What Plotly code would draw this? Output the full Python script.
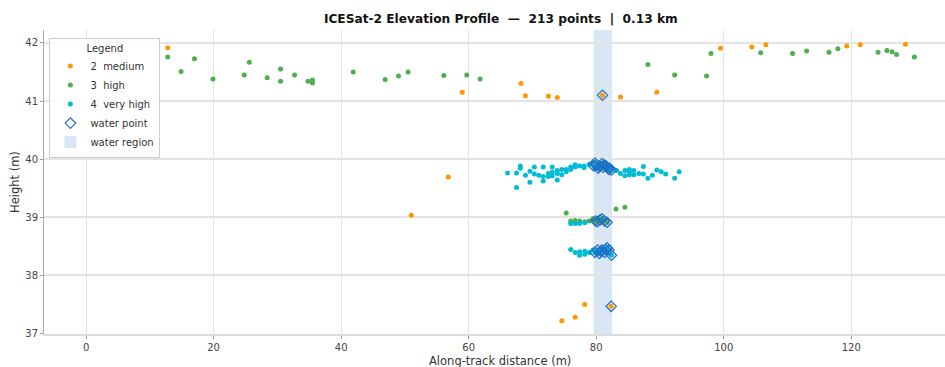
import plotly.graph_objects as go

# Photon returns by confidence class: along-track distance (m) and height (m)
medium_dist = [12.8, 51.0, 56.8, 59.0, 68.2, 68.9, 72.5, 73.9, 74.6, 76.7, 78.2,
               81.0, 82.35, 83.8, 89.5, 99.5, 104.4, 106.6, 119.3, 121.4, 128.5]
medium_h = [41.92, 39.03, 39.69, 41.15, 41.30, 41.09, 41.08, 41.06, 37.21, 37.27, 37.49,
            41.10, 37.46, 41.07, 41.15, 41.91, 41.93, 41.97, 41.95, 41.97, 41.98]

high_dist = [12.8, 14.9, 17.0, 19.9, 24.8, 25.6, 28.4, 30.5, 30.5, 32.7, 34.8, 35.5, 35.5,
             41.9, 46.9, 49.0, 50.5, 56.1, 59.7, 61.8, 88.1, 92.3, 97.3, 98.0, 105.8,
             110.8, 113.0, 116.5, 117.9, 124.2, 125.6, 126.4, 127.1, 129.9,
             75.3, 76.0, 76.7, 77.4, 78.2, 78.9, 79.5, 79.9, 80.2, 80.6, 80.9, 81.3,
             81.7, 83.1, 84.5]
high_h = [41.76, 41.51, 41.73, 41.38, 41.45, 41.67, 41.40, 41.55, 41.34, 41.45, 41.34, 41.36, 41.31,
          41.50, 41.37, 41.43, 41.50, 41.44, 41.45, 41.38, 41.63, 41.45, 41.43, 41.82, 41.83,
          41.82, 41.86, 41.84, 41.90, 41.84, 41.87, 41.85, 41.80, 41.76,
          39.07, 38.93, 38.94, 38.93, 38.92, 38.93, 38.97, 38.93, 38.92, 38.95, 38.97, 38.93,
          38.91, 39.14, 39.17]

vhigh_dist = [66.1, 67.5, 67.5, 68.1, 68.1, 68.9, 69.6, 69.6, 70.3, 70.3, 71.0, 71.7, 71.7,
              71.7, 72.5, 72.5, 73.1, 73.1, 73.1, 73.9, 73.9, 73.9, 74.6, 74.6, 75.3, 75.3,
              76.0, 76.0, 76.7, 76.7, 77.4, 78.1, 78.1, 78.9,
              79.3, 79.6, 80.0, 80.3, 80.6, 80.9, 81.1, 81.4, 81.8, 82.1, 82.4,
              79.8, 80.5, 81.2, 81.6, 82.0,
              83.2, 83.8, 84.5, 84.5, 85.2, 85.2, 85.2, 85.9, 85.9, 86.7, 87.4, 87.4,
              88.1, 88.8, 89.5, 90.2, 90.9, 92.3, 93.0,
              76.0, 76.7, 77.4, 78.2,
              76.0, 76.7, 77.4, 77.4, 78.2, 78.2, 78.9,
              79.5, 79.8, 80.2, 80.5, 80.9, 81.3, 81.7, 82.0, 82.4, 80.7, 81.5]
vhigh_h = [39.76, 39.76, 39.51, 39.88, 39.84, 39.72, 39.79, 39.60, 39.86, 39.74, 39.72, 39.86, 39.70,
           39.62, 39.75, 39.70, 39.86, 39.77, 39.71, 39.80, 39.75, 39.64, 39.82, 39.73, 39.82, 39.78,
           39.86, 39.82, 39.90, 39.86, 39.88, 39.88, 39.85, 39.91,
           39.92, 39.88, 39.90, 39.84, 39.88, 39.92, 39.86, 39.89, 39.85, 39.84, 39.81,
           39.93, 39.87, 39.90, 39.87, 39.82,
           39.80, 39.75, 39.80, 39.71, 39.82, 39.77, 39.73, 39.80, 39.73, 39.75, 39.87, 39.74,
           39.67, 39.72, 39.81, 39.78, 39.74, 39.67, 39.78,
           38.89, 38.89, 38.89, 38.90,
           38.44, 38.39, 38.40, 38.34, 38.41, 38.36, 38.39,
           38.43, 38.39, 38.43, 38.37, 38.43, 38.39, 38.47, 38.43, 38.34, 38.41, 38.44]

# Along-track extent of the detected water surface (m)
water_start, water_end = 79.6, 82.5

x_ticks = [0, 20, 40, 60, 80, 100, 120]
y_ticks = [37, 38, 39, 40, 41, 42]
x_range = [-6.6, 134.7]
y_range = [36.983, 42.224]

FONT = "DejaVu Sans"

# Every return that falls inside the water region is flagged as a water point
all_dist = medium_dist + high_dist + vhigh_dist
all_h = medium_h + high_h + vhigh_h
water_dist = [d for d in all_dist if water_start <= d <= water_end]
water_h = [h for d, h in zip(all_dist, all_h) if water_start <= d <= water_end]

fig = go.Figure()

# Water region band, listed in the legend
fig.add_shape(
    type="rect", xref="x", yref="paper",
    x0=water_start, x1=water_end, y0=0, y1=1,
    fillcolor="rgba(120,168,214,0.28)", line=dict(width=0), layer="below",
    showlegend=True, name="water region", legendrank=5,
)

classes = [
    ("2  medium", medium_dist, medium_h, "#ff9800", 1),
    ("3  high", high_dist, high_h, "#4caf50", 2),
    ("4  very high", vhigh_dist, vhigh_h, "#00bcd4", 3),
]
for name, xs, ys, color, rank in classes:
    fig.add_trace(go.Scatter(
        x=xs, y=ys, mode="markers", name=name, legendrank=rank,
        marker=dict(size=5, color=color, line=dict(width=0)),
    ))

fig.add_trace(go.Scatter(
    x=water_dist, y=water_h, mode="markers", name="water point", legendrank=4,
    marker=dict(symbol="diamond-open", size=8, color="#1f6fc8",
                line=dict(width=1.2, color="#1f6fc8")),
))

fig.update_layout(
    width=945, height=367,
    margin=dict(l=44, r=0, t=30, b=33),
    paper_bgcolor="white", plot_bgcolor="white",
    font=dict(family=FONT, size=10, color="#333"),
    title=dict(
        text="<b>ICESat-2 Elevation Profile  —  213 points  |  0.13 km</b>",
        x=0.507, xref="paper", xanchor="center", y=0.95, yanchor="middle",
        font=dict(family=FONT, size=12.2, color="#111"),
    ),
    showlegend=True,
    legend=dict(
        x=0.006, y=0.975, xanchor="left", yanchor="top",
        bgcolor="rgba(255,255,255,0.9)", bordercolor="#cccccc", borderwidth=1,
        font=dict(family=FONT, size=10, color="#333"),
        title=dict(text="Legend", side="top center", font=dict(family=FONT, size=10, color="#333")),
        itemwidth=30,
    ),
    annotations=[
        dict(text="Along-track distance (m)", xref="paper", yref="paper",
             x=0.506, y=0, xanchor="center", yanchor="middle", yshift=-27,
             showarrow=False, font=dict(family=FONT, size=11.5, color="#333")),
        dict(text="Height (m)", xref="paper", yref="paper", textangle=-90,
             x=0, y=0.5, xanchor="center", yanchor="middle", xshift=-29,
             showarrow=False, font=dict(family=FONT, size=11.5, color="#333")),
    ],
)

fig.update_xaxes(
    range=x_range, tickvals=x_ticks, ticks="outside", ticklen=3, tickcolor="#999",
    showgrid=True, gridcolor="#e3e3e3", gridwidth=1, zeroline=False,
    showline=True, linecolor="#dcdcdc", linewidth=2, automargin=False,
    tickfont=dict(family=FONT, size=10, color="#444"),
)
fig.update_yaxes(
    range=y_range, tickvals=y_ticks, ticks="outside", ticklen=3, tickcolor="#999",
    showgrid=True, gridcolor="#e3e3e3", gridwidth=1.5, zeroline=False,
    showline=True, linecolor="#aaaaaa", linewidth=1, automargin=False,
    tickfont=dict(family=FONT, size=10, color="#444"),
)

fig.write_html("out.html")
